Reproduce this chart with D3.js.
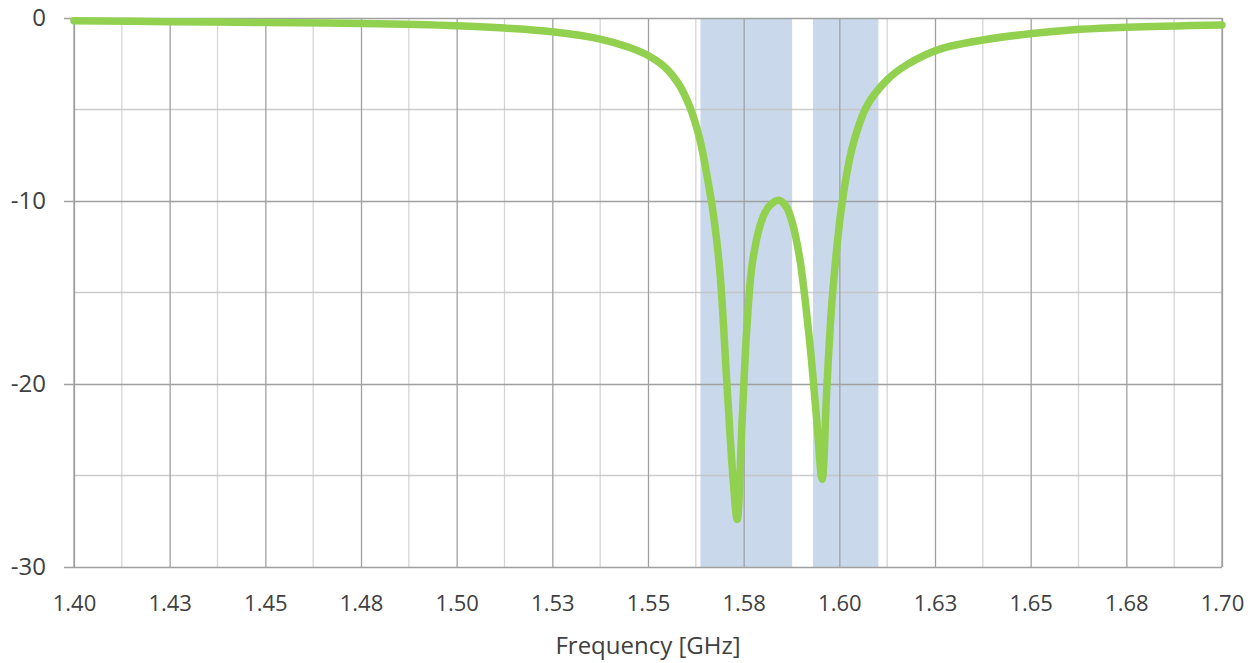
<!DOCTYPE html>
<html>
<head>
<meta charset="utf-8">
<script src="https://cdn.jsdelivr.net/npm/d3@7"></script>
<style>
  body { margin: 0; background: #fff; }
  text { font-family: "Open Sans", "Noto Sans", sans-serif; fill: #404040; }
</style>
</head>
<body>
<div id="chart"></div>
<script>
// response curve
var freq = [1.400, 1.425, 1.450, 1.475, 1.500, 1.5125, 1.525, 1.5375, 1.545, 1.550,
  1.5545, 1.558, 1.561, 1.5635, 1.5655, 1.5672, 1.5688, 1.5706, 1.5722, 1.5733, 1.5746, 1.5759,
  1.5774, 1.5800, 1.5818, 1.5842, 1.5861, 1.5876, 1.5897, 1.5923, 1.5941, 1.5955,
  1.5968, 1.5983, 1.6009, 1.6036, 1.6072, 1.6124, 1.6177, 1.6263, 1.6375, 1.6503,
  1.6629, 1.6752, 1.700];
var gain = [-0.15, -0.2, -0.25, -0.3, -0.42, -0.55, -0.75, -1.15, -1.6, -2.05,
  -2.7, -3.6, -4.9, -6.6, -8.7, -10.9, -13.9, -19.9, -25.1, -27.4, -22.0, -16.7,
  -13.2, -10.9, -10.25, -9.96, -10.3, -11.1, -13.2, -17.8, -22.0, -25.2,
  -19.9, -14.9, -9.85, -6.9, -4.8, -3.4, -2.55, -1.7, -1.2, -0.85,
  -0.62, -0.5, -0.38];

// shaded bands (GHz)
var bandStart = [1.5637, 1.5931];
var bandEnd = [1.5874, 1.6102];

var xTicks = [1.400, 1.425, 1.450, 1.475, 1.500, 1.525, 1.550, 1.575, 1.600, 1.625, 1.650, 1.675, 1.700];
var xLabels = ["1.40", "1.43", "1.45", "1.48", "1.50", "1.53", "1.55", "1.58", "1.60", "1.63", "1.65", "1.68", "1.70"];
var xMinor = [1.4125, 1.4375, 1.4625, 1.4875, 1.5125, 1.5375, 1.5625, 1.5875, 1.6125, 1.6375, 1.6625, 1.6875];
var yTicks = [0, -10, -20, -30];
var yLabels = ["0", "-10", "-20", "-30"];
var yMinor = [-5, -15, -25];

var svgWidth = 1257;
var svgHeight = 663;
var margin = { top: 18, right: 35, bottom: 96, left: 74 };
var width = svgWidth - margin.left - margin.right;
var height = svgHeight - margin.top - margin.bottom;

var svg = d3.select("#chart")
  .append("svg")
  .attr("width", svgWidth)
  .attr("height", svgHeight);

var chartGroup = svg.append("g")
  .attr("transform", `translate(${margin.left}, ${margin.top})`);

var x = d3.scaleLinear().domain([1.4, 1.7]).range([0, width]);
var y = d3.scaleLinear().domain([-30, 0]).range([height, 0]);

// bands
chartGroup.selectAll(".band")
  .data(bandStart)
  .enter()
  .append("rect")
  .attr("x", (d, i) => x(d))
  .attr("y", 0)
  .attr("width", (d, i) => x(bandEnd[i]) - x(d))
  .attr("height", height)
  .attr("fill", "#c9d9eb");

// minor grid
chartGroup.append("g")
  .selectAll("line")
  .data(xMinor)
  .enter()
  .append("line")
  .attr("x1", d => x(d)).attr("x2", d => x(d))
  .attr("y1", 0).attr("y2", height)
  .attr("stroke", "#d0d0d0")
  .attr("stroke-width", 1.3)
  .attr("opacity", 0.85);

chartGroup.append("g")
  .selectAll("line")
  .data(yMinor)
  .enter()
  .append("line")
  .attr("x1", 0).attr("x2", width)
  .attr("y1", d => y(d)).attr("y2", d => y(d))
  .attr("stroke", "#c4c4c4")
  .attr("stroke-width", 1.3)
  .attr("opacity", 0.85);

// major grid
var xAxis = chartGroup.append("g")
  .attr("transform", `translate(0, ${height})`)
  .call(d3.axisBottom(x).tickValues(xTicks).tickSize(height).tickFormat((d, i) => xLabels[i]).tickPadding(0));
xAxis.select(".domain").remove();
xAxis.selectAll(".tick line")
  .attr("transform", `translate(0, ${-height})`)
  .attr("stroke", "#a0a0a0")
  .attr("stroke-width", 1.3);
xAxis.selectAll(".tick text")
  .attr("transform", `translate(0, ${-height})`)
  .attr("y", height + 44)
  .attr("dy", 0)
  .style("font-size", "22px")
  .style("fill", "#404040");

var yAxis = chartGroup.append("g")
  .call(d3.axisLeft(y).tickValues(yTicks).tickSize(10).tickPadding(18).tickFormat((d, i) => yLabels[i]));
yAxis.select(".domain").remove();
yAxis.selectAll(".tick line")
  .attr("x2", width)
  .attr("x1", -10)
  .attr("stroke", "#a0a0a0")
  .attr("stroke-width", 1.3);
yAxis.selectAll(".tick text")
  .style("font-size", "24px")
  .style("fill", "#404040");

// frame
chartGroup.append("line")
  .attr("x1", 0).attr("x2", 0).attr("y1", 0).attr("y2", height)
  .attr("stroke", "#a0a0a0").attr("stroke-width", 1.3);
chartGroup.append("line")
  .attr("x1", width).attr("x2", width).attr("y1", 0).attr("y2", height)
  .attr("stroke", "#a0a0a0").attr("stroke-width", 1.3);

// curve
var points = freq.map((f, i) => [f, gain[i]]);
var line = d3.line()
  .x(d => x(d[0]))
  .y(d => y(d[1]))
  .curve(d3.curveCatmullRom.alpha(0.5));

chartGroup.append("path")
  .datum(points)
  .attr("d", line)
  .attr("fill", "none")
  .attr("stroke", "#92d050")
  .attr("stroke-width", 7.5)
  .attr("stroke-linecap", "round")
  .attr("stroke-linejoin", "round");

// axis title
svg.append("text")
  .attr("x", margin.left + width / 2)
  .attr("y", 654)
  .attr("text-anchor", "middle")
  .style("font-size", "24px")
  .text("Frequency [GHz]");
</script>
</body>
</html>
